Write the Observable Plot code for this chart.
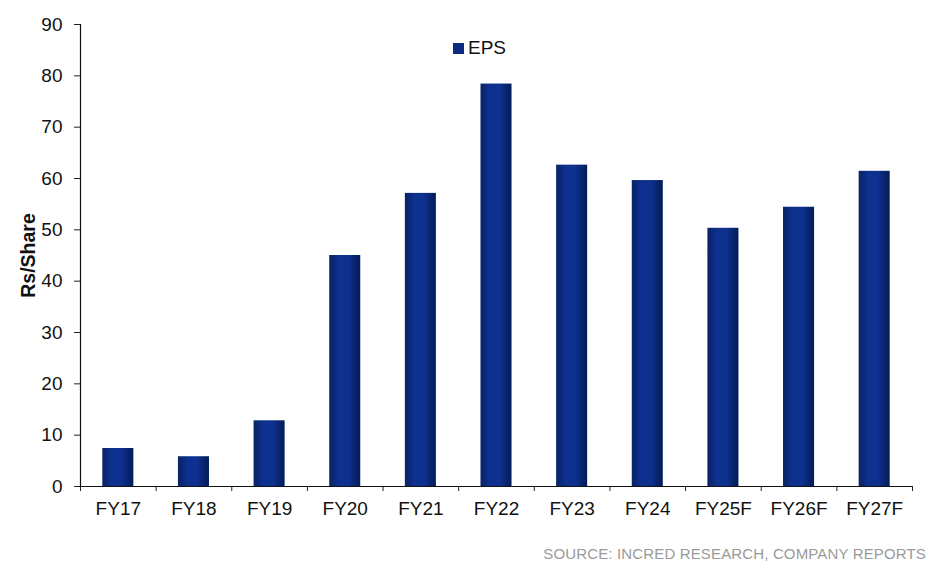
<!DOCTYPE html>
<html>
<head>
<meta charset="utf-8">
<script src="https://cdn.jsdelivr.net/npm/d3@7"></script>
<script src="https://cdn.jsdelivr.net/npm/@observablehq/plot@0.6"></script>
<style>
  html, body { margin: 0; padding: 0; background: #fff; overflow: hidden; }
  body { width: 928px; height: 563px; position: relative; font-family: "Liberation Sans", Arial, sans-serif; }
  #chart svg { display: block; }
  .legend { position: absolute; left: 453px; top: 37px; font-size: 19px; color: #111; display: flex; align-items: center; }
  .legend .sw { width: 11px; height: 11px; background: #0c2a80; margin-right: 4px; }
  .source { position: absolute; right: 2px; top: 545px; font-size: 15px; letter-spacing: 0.15px; color: #9a9a9a; white-space: nowrap; }
</style>
</head>
<body>
<div id="chart"></div>
<div class="legend"><span class="sw"></span><span>EPS</span></div>
<div class="source">SOURCE: INCRED RESEARCH, COMPANY REPORTS</div>
<script>
// Fiscal years and earnings per share (Rs/share); F = forecast
const years = ["FY17", "FY18", "FY19", "FY20", "FY21", "FY22", "FY23", "FY24", "FY25F", "FY26F", "FY27F"];
const eps = [7.4, 5.8, 12.8, 45.0, 57.1, 78.4, 62.6, 59.6, 50.3, 54.4, 61.4];
const yTicks = [0, 10, 20, 30, 40, 50, 60, 70, 80, 90];

const rows = years.map((year, i) => ({year, i, eps: eps[i]}));
const font = "Liberation Sans, Arial, sans-serif";

const chart = Plot.plot({
  width: 928,
  height: 530,
  marginLeft: 80,
  marginRight: 16,
  marginTop: 24,
  marginBottom: 44,
  style: {fontFamily: font, fontSize: "19px", color: "#111", background: "#fff"},
  x: {type: "linear", domain: [0, years.length]},
  y: {domain: [0, 90]},
  marks: [
    Plot.rectY(rows, {
      x1: "i", x2: d => d.i + 1, y1: 0, y2: "eps",
      insetLeft: 22.3, insetRight: 22.3,
      fill: "url(#epsBar)"
    }),
    // category boundary ticks
    Plot.axisX({ticks: d3.range(0, years.length + 1), tickSize: 5, tickFormat: () => "", stroke: "#222", label: null}),
    // category labels centred in each slot
    Plot.axisX({ticks: years.map((_, i) => i + 0.5), tickSize: 0, tickPadding: 15, tickFormat: v => years[Math.round(v - 0.5)], fontSize: 19, label: null}),
    Plot.axisY({ticks: yTicks, tickSize: 6, tickPadding: 12, stroke: "#222", fontSize: 19, label: null}),
    Plot.ruleX([0], {stroke: "#111", strokeWidth: 1.2}),
    Plot.ruleY([0], {stroke: "#111", strokeWidth: 1.2}),
    Plot.text(["Rs/Share"], {frameAnchor: "left", dx: -52, rotate: -90, textAnchor: "middle", fontWeight: "bold", fontSize: 19.5, fill: "#111"})
  ]
});

// horizontal shading for the bars
const svg = d3.select(chart);
const grad = svg.insert("defs", ":first-child").append("linearGradient")
  .attr("id", "epsBar").attr("x1", "0").attr("x2", "1").attr("y1", "0").attr("y2", "0");
[[0, "#0b2466"], [0.12, "#0a2773"], [0.3, "#0e3190"], [0.62, "#0e3190"], [0.8, "#0a2672"], [1, "#001d58"]]
  .forEach(([o, c]) => grad.append("stop").attr("offset", o).attr("stop-color", c));

document.getElementById("chart").append(chart);
</script>
</body>
</html>
